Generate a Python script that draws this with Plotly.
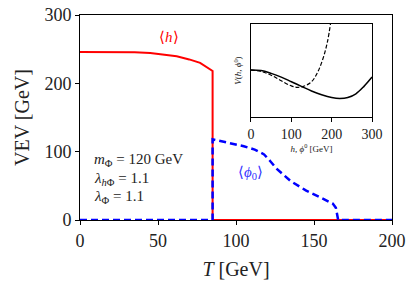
import plotly.graph_objects as go

# Main panel data
T_h = [0, 20, 35, 45, 55, 62, 70, 77, 85, 85, 200]
vev_h = [246, 246, 245.5, 244.5, 242, 239.5, 235, 230, 218, 0, 0]

T_phi = [0, 85, 85, 95, 105, 112, 118, 122, 126, 135, 145, 155, 162, 164, 165, 165.5, 200]
vev_phi = [0, 0, 118, 113, 108, 103, 96, 86, 75, 57, 43, 32, 24, 18, 8, 0, 0]

# Inset data (potential, arbitrary units)
h_solid = [0, 25, 50, 75, 100, 125, 150, 175, 200, 220, 240, 260, 280, 300]
V_solid = [0.505, 0.50, 0.47, 0.43, 0.38, 0.33, 0.28, 0.24, 0.21, 0.20, 0.21, 0.25, 0.33, 0.43]
h_dash = [0, 25, 50, 75, 100, 115, 130, 150, 165, 180, 190, 197]
V_dash = [0.505, 0.49, 0.45, 0.39, 0.335, 0.32, 0.33, 0.38, 0.48, 0.65, 0.82, 1.0]

FONT = "Liberation Serif"

fig = go.Figure()
fig.add_trace(go.Scatter(x=T_h, y=vev_h, mode="lines",
                         line=dict(color="#ff0000", width=2), showlegend=False))
fig.add_trace(go.Scatter(x=T_phi, y=vev_phi, mode="lines",
                         line=dict(color="#0000ff", width=2.5, dash="7px,4px"), showlegend=False))
fig.add_trace(go.Scatter(x=h_solid, y=V_solid, mode="lines", xaxis="x2", yaxis="y2", line_shape="spline",
                         line=dict(color="black", width=1.5), showlegend=False))
fig.add_trace(go.Scatter(x=h_dash, y=V_dash, mode="lines", xaxis="x2", yaxis="y2", line_shape="spline",
                         line=dict(color="black", width=1.2, dash="4px,2px"), showlegend=False))

fig.update_layout(
    width=416, height=290,
    margin=dict(l=80, r=24, t=15, b=70),
    paper_bgcolor="white", plot_bgcolor="white",
    font=dict(family=FONT, color="#222", size=16),
    xaxis=dict(range=[0, 200], tickvals=[0, 50, 100, 150, 200], automargin=False,
               showline=True, linecolor="black", linewidth=1, mirror=True,
               ticks="outside", ticklen=4, tickcolor="black", showgrid=False, zeroline=False,
               tickfont=dict(size=18, family=FONT),
               title=dict(text="<i>T</i> [GeV]", font=dict(size=20, family=FONT), standoff=12)),
    yaxis=dict(range=[0, 300], tickvals=[0, 100, 200, 300], automargin=False,
               showline=True, linecolor="black", linewidth=1, mirror=True,
               ticks="outside", ticklen=4, tickcolor="black", showgrid=False, zeroline=False,
               tickfont=dict(size=18, family=FONT),
               title=dict(text="VEV [GeV]", font=dict(size=20, family=FONT), standoff=9)),
    xaxis2=dict(domain=[0.548, 0.936], anchor="y2", range=[0, 300], tickvals=[0, 100, 200, 300],
                automargin=False,
                showline=True, linecolor="black", linewidth=1, mirror=True,
                ticks="outside", ticklen=4, tickcolor="black", showgrid=False, zeroline=False,
                tickfont=dict(size=14, family=FONT),
                title=dict(text="<i>h</i>, <i>ϕ</i><sup>0</sup> [GeV]", font=dict(size=9, family=FONT), standoff=2)),
    yaxis2=dict(domain=[0.502, 0.956], anchor="x2", range=[0, 1], automargin=False,
                showline=True, linecolor="black", linewidth=1, mirror=True,
                showticklabels=False, ticks="", showgrid=False, zeroline=False,
                title=dict(text="<i>V</i>(<i>h</i>, <i>ϕ</i><sup>0</sup>)", font=dict(size=9, family=FONT), standoff=6)),
    annotations=[
        dict(x=57, y=268, xref="x", yref="y", text="⟨<i>h</i>⟩", showarrow=False,
             font=dict(color="#ff0000", size=15, family=FONT)),
        dict(x=109, y=69, xref="x", yref="y", text="⟨<i>ϕ</i><sub>0</sub>⟩", showarrow=False,
             font=dict(color="#3333ff", size=15, family=FONT)),
        dict(x=8, y=88, xref="x", yref="y", xanchor="left", yanchor="middle",
             text="<i>m</i><sub>Φ</sub> = 120 GeV", showarrow=False,
             font=dict(size=15, family=FONT, color="#222")),
        dict(x=8, y=60, xref="x", yref="y", xanchor="left", yanchor="middle",
             text="<i>λ</i><sub><i>h</i>Φ</sub> = 1.1", showarrow=False,
             font=dict(size=15, family=FONT, color="#222")),
        dict(x=8, y=33, xref="x", yref="y", xanchor="left", yanchor="middle",
             text="<i>λ</i><sub>Φ</sub> = 1.1", showarrow=False,
             font=dict(size=15, family=FONT, color="#222")),
    ],
)

fig.write_html("out.html", config={"displayModeBar": False},
               post_script="document.body.style.margin='0';document.body.style.padding='0';")
